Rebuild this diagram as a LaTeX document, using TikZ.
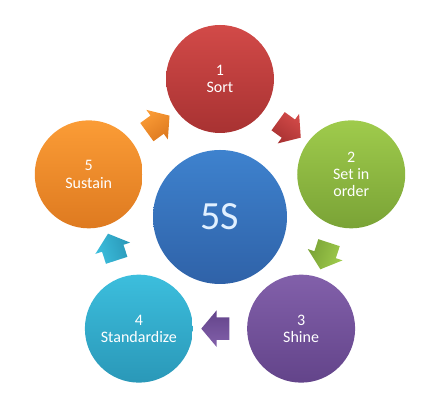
\documentclass[tikz,border=0pt]{standalone}
\usepackage{fontspec}
\setmainfont{Carlito}
\usetikzlibrary{shapes.arrows,calc}
\definecolor{redtop}{HTML}{D24A48}
\definecolor{redbot}{HTML}{A83232}
\definecolor{greentop}{HTML}{9FCB4C}
\definecolor{greenbot}{HTML}{7AA336}
\definecolor{purpletop}{HTML}{8260AA}
\definecolor{purplebot}{HTML}{63448A}
\definecolor{cyantop}{HTML}{3CBEDD}
\definecolor{cyanbot}{HTML}{2A98B8}
\definecolor{orangetop}{HTML}{FB9C36}
\definecolor{orangebot}{HTML}{DE7A20}
\definecolor{bluetop}{HTML}{3E82CE}
\definecolor{bluebot}{HTML}{2F62A8}
\tikzset{
  stage/.style={circle, minimum size=81pt, inner sep=0pt, text=white,
    align=center, font=\fontsize{12}{12.9}\selectfont},
  core/.style={circle, minimum size=100.5pt, inner sep=0pt,
    top color=bluetop, bottom color=bluebot,
    text={rgb,255:red,225;green,240;blue,255}, font=\fontsize{30}{32}\selectfont},
  flow/.style={single arrow, draw=none, inner xsep=0pt, inner ysep=8.25pt,
    text height=0pt, text depth=0pt, text width=0pt, minimum height=21pt,
    single arrow head extend=5.25pt, single arrow tip angle=100}
}
\begin{document}
\begin{tikzpicture}[x=0.75pt,y=0.75pt]
  \useasboundingbox (0,0) rectangle (444,413);
  \node[core] (core) at (220,196) {5S};
  \begin{scope}[shift={(220,196)}]
    \draw
      (90:138) node[stage, top color=redtop, bottom color=redbot] (sort) {1\\Sort}
      (18:138) node[stage, top color=greentop, bottom color=greenbot] (order) {2\\Set in\\order}
      (-54:138) node[stage, top color=purpletop, bottom color=purplebot] (shine) {3\\Shine}
      (-126:138) node[stage, top color=cyantop, bottom color=cyanbot] (standard) {4\\Standardize}
      (162:138) node[stage, top color=orangetop, bottom color=orangebot] (sustain) {5\\Sustain};
  \end{scope}
  % block arrows between the stages
  \node[flow, rotate=-36, top color=redtop, bottom color=redbot, shading angle=-36] (a1) at ($(sort)!0.5!(order)$) {};
  \node[flow, rotate=-108, top color=greentop, bottom color=greenbot, shading angle=-108] (a2) at ($(order)!0.5!(shine)$) {};
  \node[flow, rotate=180, top color=purpletop, bottom color=purplebot, shading angle=180] (a3) at ($(shine)!0.5!(standard)$) {};
  \node[flow, rotate=108, top color=cyantop, bottom color=cyanbot, shading angle=108] (a4) at ($(standard)!0.5!(sustain)$) {};
  \node[flow, rotate=36, top color=orangetop, bottom color=orangebot, shading angle=36] (a5) at ($(sustain)!0.5!(sort)$) {};
\end{tikzpicture}
\end{document}
